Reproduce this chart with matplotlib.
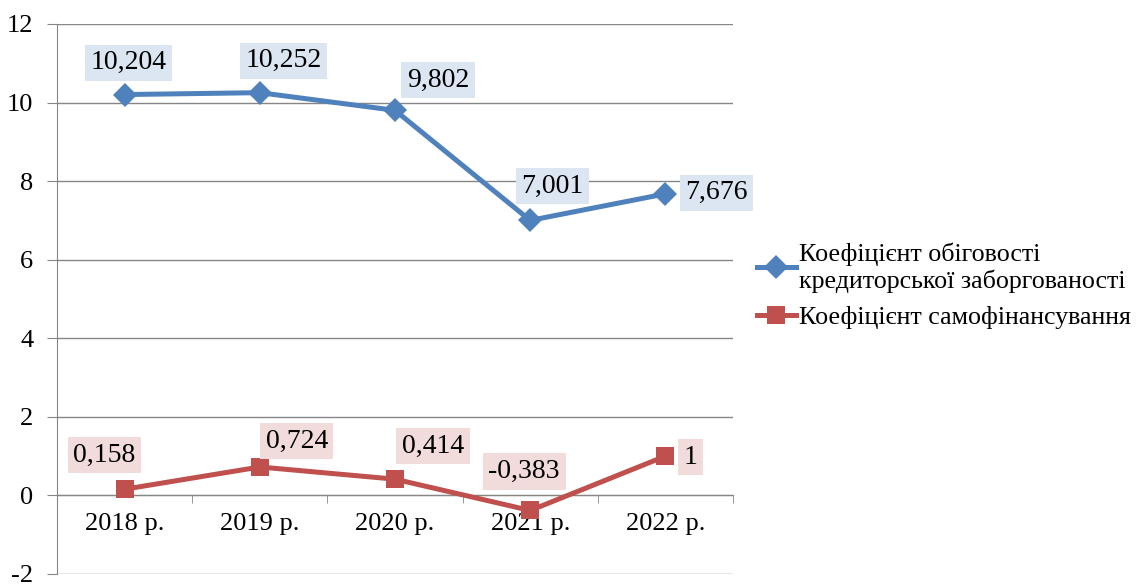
import matplotlib.pyplot as plt
from matplotlib.ticker import FixedLocator, MultipleLocator

plt.rcParams['font.family'] = ['Liberation Serif', 'DejaVu Serif']
plt.rcParams['axes.unicode_minus'] = False

# data
years = ['2018 р.', '2019 р.', '2020 р.', '2021 р.', '2022 р.']
turnover = [10.204, 10.252, 9.802, 7.001, 7.676]
self_fin = [0.158, 0.724, 0.414, -0.383, 1]
turnover_name = 'Коефіцієнт обіговості\nкредиторської заборгованості'
self_fin_name = 'Коефіцієнт самофінансування'

# label offsets in pixels from each point
turnover_off = [(4, 32), (24, 32), (43, 30), (22, 34), (51, 1)]
self_fin_off = [(-20, 34), (37, 26), (38, 33), (-6, 39), (25, -1)]

blue = '#4f81bd'
red = '#c0504d'
grey = '#868686'

fig = plt.figure(figsize=(11.38, 5.86), dpi=100)
ax = fig.add_axes([57 / 1138, 12 / 586, 676 / 1138, 550 / 586])

x = list(range(len(years)))
l1, = ax.plot(x, turnover, color=blue, lw=3.6, marker='D', ms=12, mew=0,
              label=turnover_name, zorder=3)
l2, = ax.plot(x, self_fin, color=red, lw=3.6, marker='s', ms=13, mew=0,
              label=self_fin_name, zorder=3)

def fmt(v):
    return ('%g' % v).replace('.', ',')

for xi, v, off in zip(x, turnover, turnover_off):
    ax.annotate(fmt(v), (xi, v), xytext=off, textcoords='offset pixels',
                ha='center', va='center', fontsize=20, zorder=4,
                bbox=dict(boxstyle='square,pad=0.2', fc='#dce6f2', ec='none'))
for xi, v, off in zip(x, self_fin, self_fin_off):
    ax.annotate(fmt(v), (xi, v), xytext=off, textcoords='offset pixels',
                ha='center', va='center', fontsize=20, zorder=4,
                bbox=dict(boxstyle='square,pad=0.2', fc='#f2dcdb', ec='none'))

ax.set_xlim(-0.5, len(years) - 0.5)
ax.set_ylim(-2, 12)
ax.yaxis.set_major_locator(MultipleLocator(2))
ax.grid(axis='y', color=grey, lw=1)
ax.set_axisbelow(True)

for side in ['top', 'right']:
    ax.spines[side].set_visible(False)
ax.spines['left'].set_color(grey)
ax.spines['bottom'].set_color(grey)
ax.spines['bottom'].set_position(('data', 0))

ax.set_xticks(x)
ax.set_xticklabels(years)
ax.xaxis.set_minor_locator(FixedLocator([i + 0.5 for i in range(-1, len(years))]))
ax.tick_params(axis='x', which='major', length=0, pad=13, labelsize=19)
ax.tick_params(axis='x', which='minor', length=6, color=grey, direction='out')
ax.tick_params(axis='y', length=7, color=grey, labelsize=19, pad=10)

fig.legend(handles=[l1, l2], loc='center left', bbox_to_anchor=(757 / 1138, 1 - 286 / 586),
           frameon=False, fontsize=18.7, handlelength=1.5, handletextpad=0.1,
           labelspacing=0.5, borderpad=0, borderaxespad=0)

fig.savefig('out.png', dpi=100)
